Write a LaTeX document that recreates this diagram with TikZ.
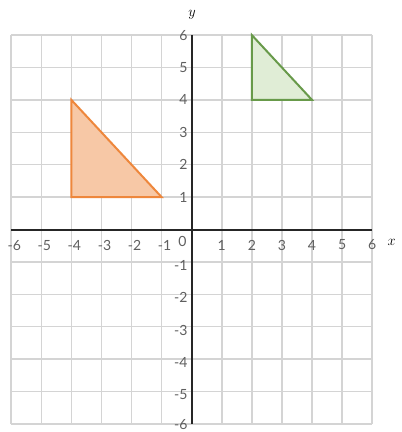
\documentclass[tikz,border=0pt]{standalone}
\usepackage{fontspec}
\setsansfont{Lato}
\definecolor{gridgray}{RGB}{212,212,212}
\definecolor{numgray}{RGB}{95,95,95}
\definecolor{orfill}{RGB}{247,200,166}
\definecolor{ordraw}{RGB}{238,135,60}
\definecolor{grfill}{RGB}{224,237,214}
\definecolor{grdraw}{RGB}{104,154,74}
\begin{document}
\begin{tikzpicture}[x=30.08pt,y=32.4pt,
  gridline/.style={draw=gridgray,line width=1.5pt},
  axisline/.style={draw=black!85,line width=2pt},
  num/.style={font=\sffamily\fontsize{14}{14}\selectfont,text=numgray,inner sep=0pt},
  axlabel/.style={font=\fontsize{15}{15}\selectfont,inner sep=0pt},
  tri/.style={line width=2pt}]
\useasboundingbox (-191.7pt,-202.5pt) rectangle (210.3pt,229.5pt);
\fill[white] (-191.7pt,-202.5pt) rectangle (210.3pt,229.5pt);
\draw[gridline,step=1] (-6,-6) grid (6,6);
\filldraw[tri,fill=orfill,draw=ordraw] (-4,4) -- (-4,1) -- (-1,1) -- cycle;
\filldraw[tri,fill=grfill,draw=grdraw] (2,6) -- (2,4) -- (4,4) -- cycle;
\draw[axisline] (-6,0) -- (6,0);
\draw[axisline] (0,-6) -- (0,6);
\foreach \i in {1,...,6}{
  \node[num] (xp\i) at (\i,0) [yshift=-15.5pt] {\i};
  \node[num] (xn\i) at (-\i,0) [xshift=3pt,yshift=-16pt] {-\i};
  \node[num,anchor=east] (yp\i) at (0,\i) [xshift=-4pt] {\i};
}
\foreach \i/\s in {1/3.5,2/3.5,3/3.5,4/3.5,5/3.5,6/0.5}{
  \node[num,anchor=east] (yn\i) at (0,-\i) [xshift=-4pt,yshift=-\s pt] {-\i};
}
\node[num] (zero) at (-9.2pt,-12pt) {0};
\node[axlabel] (xlab) at (200pt,-12.5pt) {$x$};
\node[axlabel] (ylab) at (0.3pt,214.5pt) {$y$};
\end{tikzpicture}
\end{document}
